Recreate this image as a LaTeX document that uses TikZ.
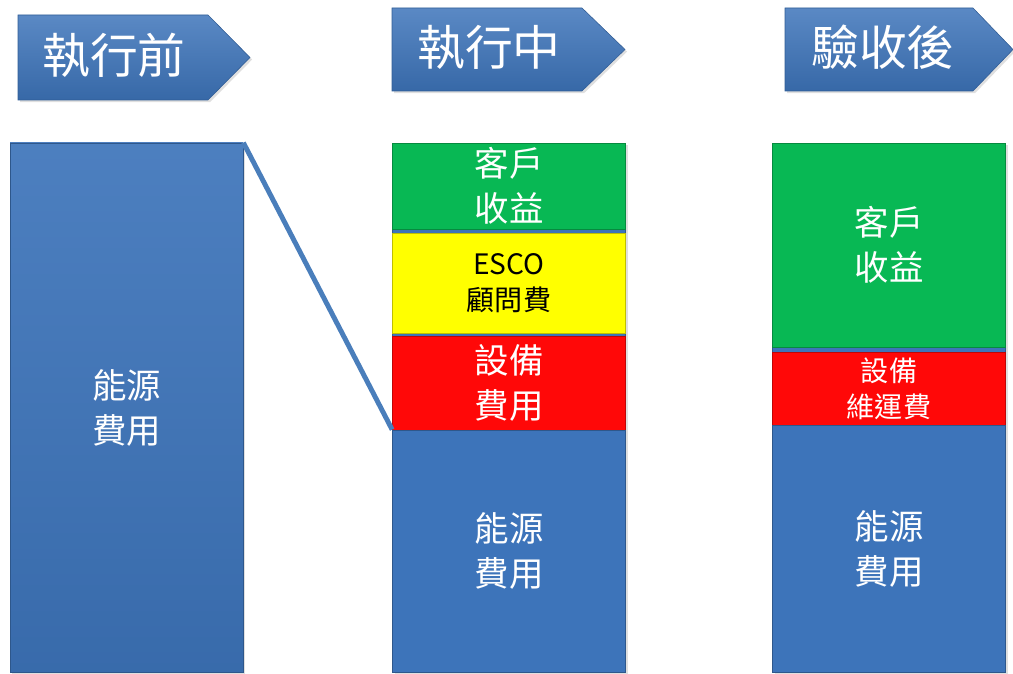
\documentclass[tikz,border=0pt]{standalone}
\usepackage{fontspec}
\setmainfont{Noto Sans CJK TC}
\usepackage{xcolor}
\usetikzlibrary{shadows}

\definecolor{barblue}{RGB}{61,116,186}
\definecolor{bargreen}{RGB}{8,184,84}
\definecolor{baryellow}{RGB}{255,255,0}
\definecolor{barred}{RGB}{255,8,8}
\definecolor{linkblue}{RGB}{74,126,187}

\begin{document}
\begin{tikzpicture}[x=0.025cm,y=-0.025cm,
  tag/.style={top color=barblue!85!white,bottom color=barblue!90!black,
    draw=barblue!80!black,line width=0.4pt,
    drop shadow={opacity=0.25,shadow xshift=1.5pt,shadow yshift=-1.5pt}},
  tagtext/.style={text=white,font=\fontsize{34}{38}\selectfont},
  bar/.style={rectangle,draw=#1!75!black,fill=#1,line width=0.5pt,
    minimum width=233*0.025cm,inner sep=0pt,text=white,align=center},
  big/.style={font=\fontsize{24.5}{32}\selectfont},
  small/.style={font=\fontsize{20}{25.5}\selectfont}]
  \useasboundingbox (0,0) rectangle (1013,674);

  % stage tags
  \path[tag] (18,15) -- (208,15) -- (250,57.5) -- (208,100) -- (18,100) -- cycle;
  \node[tagtext] (before) at (114,55){執行前};
  \path[tag] (392,8) -- (582,8) -- (625,49.5) -- (582,91) -- (392,91) -- cycle;
  \node[tagtext] (during) at (489,47){執行中};
  \path[tag] (785,8) -- (973,8) -- (1013,49.5) -- (973,91) -- (785,91) -- cycle;
  \node[tagtext] (after) at (883,47){驗收後};

  % before
  \node[bar=barblue,big,minimum height=529*0.025cm,
    top color=barblue!92!white,bottom color=barblue!92!black,
    drop shadow={opacity=0.25,shadow xshift=1.5pt,shadow yshift=-1.5pt}] (bq) at (126.5,407.5){能源\\費用};

  % during
  \node[bar=barblue,minimum height=529*0.025cm,
    drop shadow={opacity=0.25,shadow xshift=1.5pt,shadow yshift=-1.5pt}] (zcol) at (509,407.5){};
  \node[bar=bargreen,big,minimum height=86*0.025cm] (zg) at (509,186){客戶\\收益};
  \node[bar=baryellow,small,text=black,minimum height=100*0.025cm] (zy) at (509,283){ESCO\\顧問費};
  \node[bar=barred,big,minimum height=94*0.025cm] (zr) at (509,383){設備\\費用};
  \node[bar=barblue,big,minimum height=242*0.025cm] (zb) at (509,551){能源\\費用};

  % after
  \node[bar=barblue,minimum height=529*0.025cm,
    drop shadow={opacity=0.25,shadow xshift=1.5pt,shadow yshift=-1.5pt}] (hcol) at (889,407.5){};
  \node[bar=bargreen,big,minimum height=204*0.025cm] (hg) at (889,245){客戶\\收益};
  \node[bar=barred,small,minimum height=73*0.025cm] (hr) at (889,388.5){設備\\維運費};
  \node[bar=barblue,big,minimum height=247*0.025cm] (hb) at (889,548.5){能源\\費用};

  \draw[linkblue,line width=3.5pt] (bq.north east) -- (zb.north west);
\end{tikzpicture}
\end{document}
